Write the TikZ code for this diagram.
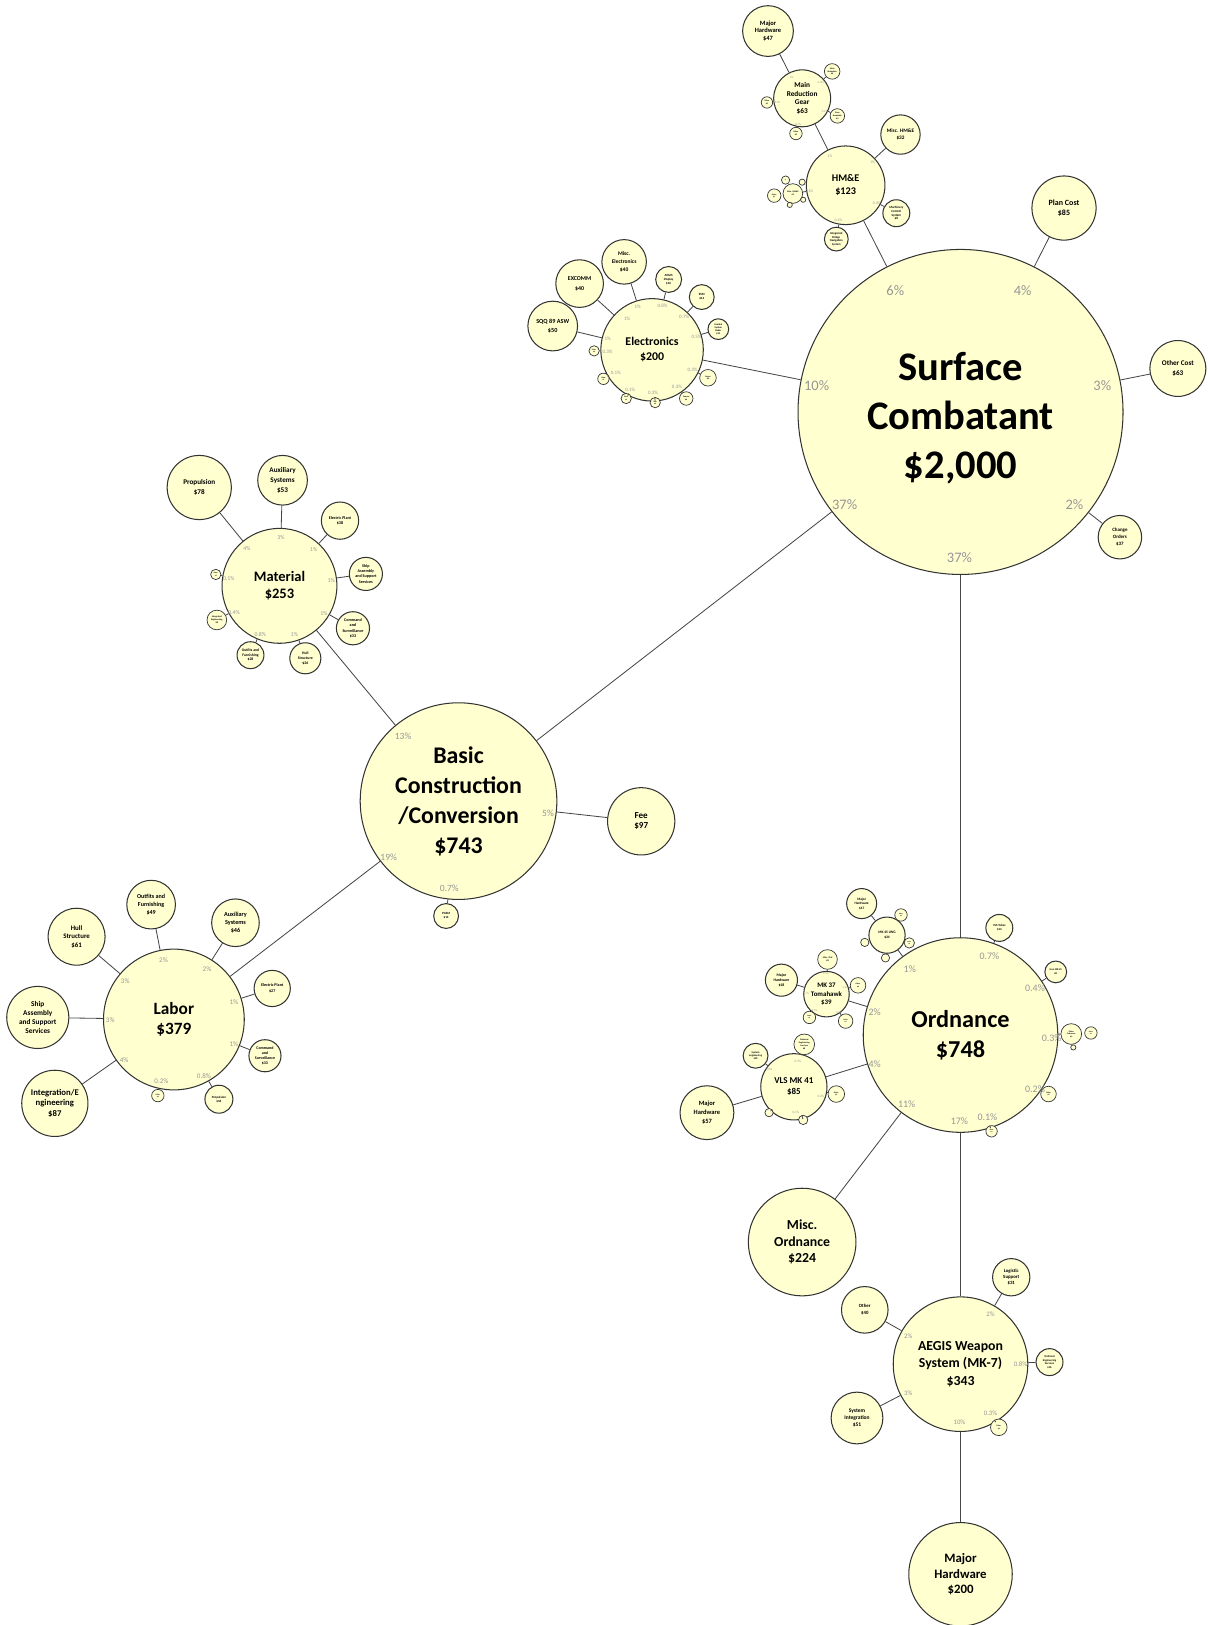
\documentclass[tikz,border=0pt]{standalone}
\usepackage{fontspec}
\setmainfont{Carlito}
\definecolor{bubfill}{RGB}{255,255,208}
\definecolor{pctgray}{RGB}{150,150,150}
\definecolor{edgegray}{RGB}{70,70,70}
\begin{document}
\begin{tikzpicture}[x=0.75pt,y=-0.75pt,
  bub/.style={circle, draw=black!80, line width=0.75pt, fill=bubfill, inner sep=0pt, minimum size=#1*1.5pt, align=center},
  sbub/.style={bub=#1, line width=0.5pt},
  fs/.style 2 args={font=\bfseries\fontsize{#1}{#2}\selectfont},
  pct/.style={text=pctgray, inner sep=0pt, font=\fontsize{#1}{#1}\selectfont},
  link/.style={draw=edgegray, line width=0.6pt}]
\useasboundingbox (0,0) rectangle (1167,1570);

% ---------------- main bubbles
\node[bub=157] (sc) at (928,398) {};
\node[fs={29.4}{35.3}, align=center, inner sep=0pt] (sct) at (928,404) {Surface\\Combatant\\\$2,000};
\node[bub=95, fs={17.3}{21.8}] (bcc) at (443,774) {Basic\\Construction\\/Conversion\\\$743};
\node[bub=94, fs={17.6}{21.8}] (ord) at (928,1000) {Ordnance\\\$748};
\node[bub=68, fs={12.5}{14.6}] (lab) at (168,985) {Labor\\\$379};
\node[bub=55.5, fs={10.5}{12.6}] (mat) at (270,566) {Material\\\$253};
\node[bub=49.5, fs={8.6}{11}] (el) at (630,338) {Electronics\\\$200};
\node[bub=38, fs={7.4}{9.5}] (hme) at (817,179) {HM\&E\\\$123};
\node[bub=65, fs={10}{12.8}] (aegis) at (928,1318) {AEGIS Weapon\\System (MK-7)\\\$343};
\node[bub=52, fs={10}{12}] (miscord) at (775,1200) {Misc.\\Ordnance\\\$224};
\node[bub=50, fs={9.3}{11}] (mh200) at (928,1521) {Major\\Hardware\\\$200};

% ---------------- surface combatant children
\node[bub=31, fs={5.8}{7.5}] (plan) at (1028,201) {Plan Cost\\\$85};
\node[bub=27, fs={5.2}{7}] (othercost) at (1138,356) {Other Cost\\\$63};
\node[bub=21, fs={3.6}{5}] (change) at (1082,519) {Change\\Orders\\\$37};

% ---------------- HM&E
\node[bub=27.5, fs={5.3}{6.5}] (mrg) at (775,95) {Main\\Reduction\\Gear\\\$63};
\node[bub=24.5, fs={4.7}{5.7}] (mh47) at (742,30) {Major\\Hardware\\\$47};
\node[sbub=7.5, fs={1.6}{1.9}] (mrgA) at (804,69) {Main\\Reduction\\\$6};
\node[sbub=5.5, fs={1.5}{1.8}] (mrgB) at (741,99) {Other\\\$2};
\node[sbub=7, fs={1.6}{1.9}] (mrgC) at (809,112) {Gear\\Assembly\\\$4};
\node[sbub=6, fs={1.5}{1.8}] (mrgD) at (769,129) {Other\\\$2};
\node[bub=19, fs={3.8}{4.8}] (mischme) at (870,130) {Misc. HM\&E\\\$32};
\node[bub=13, fs={2.3}{2.8}] (hmeR) at (866,206) {Machinery\\Control\\System\\\$8};
\node[bub=11.5, fs={2.1}{2.6}] (hmeB) at (808,231) {Integrated\\Bridge\\Navigation\\System};
\node[sbub=9.5, fs={1.6}{1.9}] (hmeL) at (766,187) {Misc. HM\&E\\\$2};
\node[sbub=6.5, fs={1.4}{1.7}] (hmeL1) at (748,189) {Other\\\$1};
\node[sbub=4, fs={1}{1.2}] (hmeL2) at (759,174) {\$1};
\node[sbub=3, fs={0.8}{1}] (hmeL3) at (775,176) {};
\node[sbub=2.5] (hmeL4) at (776,193) {};
\node[sbub=2.5] (hmeL5) at (763,198) {};

% ---------------- Electronics
\node[bub=24, fs={4.5}{7}] (sqq) at (534,315) {SQQ 89 ASW\\\$50};
\node[bub=23, fs={4.3}{7}] (excomm) at (560,274) {EXCOMM\\\$40};
\node[bub=21.5, fs={4}{5.6}] (miscel) at (603,253) {Misc.\\Electronics\\\$40};
\node[bub=12.5, fs={2.3}{2.9}] (elA) at (646,270) {AEGIS\\Display\\\$16};
\node[bub=12, fs={2.3}{2.9}] (elB) at (678,287) {ESM\\\$14};
\node[bub=10, fs={1.8}{2.3}] (elC) at (694,318) {Combat\\System\\Radar\\\$10};
\node[sbub=8, fs={1.6}{2}] (elD) at (684,365) {Sonar\\\$6};
\node[sbub=6.5, fs={1.5}{1.8}] (elE) at (663,385) {Comms\\\$6};
\node[sbub=5, fs={1.3}{1.6}] (elF) at (633,389) {Nav\\\$6};
\node[sbub=5, fs={1.3}{1.6}] (elG) at (605,385) {Other\\\$2};
\node[sbub=5.5, fs={1.3}{1.6}] (elH) at (583,366) {Other\\\$2};
\node[sbub=5, fs={1.3}{1.6}] (elI) at (574,339) {Other\\\$6};

% ---------------- Basic construction children
\node[bub=32.5, fs={6.6}{7.3}] (fee) at (619.5,793.5) {Fee\\\$97};
\node[bub=12, fs={2.3}{2.9}] (bccB) at (431,885) {PGSM\\\$14};

% ---------------- Material
\node[bub=31, fs={5.2}{7.2}] (prop) at (192.5,471) {Propulsion\\\$78};
\node[bub=24, fs={5.2}{7.2}] (auxm) at (273,464) {Auxiliary\\Systems\\\$53};
\node[bub=18, fs={3}{4}] (epm) at (328.5,503) {Electric Plant\\\$38};
\node[bub=16, fs={3}{3.8}] (sasm) at (353.5,554.5) {Ship\\Assembly\\and Support\\Services};
\node[bub=16, fs={3}{3.8}] (csm) at (341,607) {Command\\and\\Surveillance\\\$33};
\node[bub=15, fs={2.8}{3.6}] (hullm) at (295,636) {Hull\\Structure\\\$26};
\node[bub=13, fs={2.7}{3.4}] (outm) at (242,633) {Outfits and\\Furnishing\\\$28};
\node[sbub=9.5, fs={1.7}{2.1}] (iem) at (209.5,599) {Integrated\\Engineering\\\$8};
\node[sbub=5, fs={1.3}{1.6}] (tinym) at (208.5,555) {Other\\\$2};

% ---------------- Labor
\node[bub=27.5, fs={5}{6.1}] (hulll) at (74,905) {Hull\\Structure\\\$61};
\node[bub=23.5, fs={4.4}{5.6}] (outl) at (146,874) {Outfits and\\Furnishing\\\$49};
\node[bub=23, fs={4.5}{5.8}] (auxl) at (227.5,891.5) {Auxiliary\\Systems\\\$46};
\node[bub=17.5, fs={3}{4}] (epl) at (263,955) {Electric Plant\\\$27};
\node[bub=15.5, fs={2.9}{3.6}] (csl) at (256,1020) {Command\\and\\Surveillance\\\$33};
\node[bub=13.5, fs={2.3}{3}] (propl) at (211.5,1062) {Propulsion\\\$18};
\node[sbub=6, fs={1.3}{1.6}] (tinyl) at (152.5,1058.5) {Other\\\$4};
\node[bub=30, fs={5.3}{6.7}] (sasl) at (36.5,983) {Ship\\Assembly\\and Support\\Services};
\node[bub=32, fs={6.3}{7.6}] (iel) at (53,1066) {Integration/E\\ngineering\\\$87};

% ---------------- Ordnance
\node[bub=17.5, fs={2.6}{3.3}] (mk45) at (857,903.5) {MK 45 LWG\\\$34};
\node[bub=14.5, fs={2.5}{3.2}] (mh17) at (832.5,873) {Major\\Hardware\\\$17};
\node[sbub=6, fs={1.2}{1.5}] (mk45A) at (870.5,884) {Other\\\$4};
\node[sbub=5, fs={1.1}{1.4}] (mk45B) at (878.5,911) {Other\\\$3};
\node[sbub=4] (mk45C) at (855.5,925.5) {};
\node[sbub=4] (mk45D) at (835.5,910.5) {};
\node[bub=13, fs={2.2}{2.8}] (vlst) at (965.5,896.5) {VLS Tubes\\\$14};
\node[bub=10.5, fs={1.9}{2.4}] (smm) at (1020,939) {Gun MK 45\\\$8};
\node[sbub=10, fs={1.5}{1.8}] (ordR) at (1035,999) {Other\\Ordnance\\\$6};
\node[sbub=6, fs={1.2}{1.5}] (ordR1) at (1054,998) {Other\\\$2};
\node[sbub=2.5] (ordR2) at (1037,1012) {};
\node[sbub=7.5, fs={1.4}{1.7}] (ordR3) at (1013,1057) {Other\\\$4};
\node[sbub=5.5, fs={1.2}{1.5}] (ordB) at (958,1093) {Other\\\$2};
\node[bub=22, fs={5}{6.2}] (mk37) at (798.5,960.5) {MK 37\\Tomahawk\\\$39};
\node[bub=15.5, fs={2.8}{3.5}] (mh18) at (755,947) {Major\\Hardware\\\$18};
\node[sbub=9.5, fs={1.7}{2.1}] (mk37A) at (799.5,927) {Misc. Ord\\\$8};
\node[sbub=7.5, fs={1.4}{1.7}] (mk37B) at (829,952) {Other\\\$4};
\node[sbub=6, fs={1.2}{1.5}] (mk37C) at (782,983) {Other\\\$3};
\node[sbub=7, fs={1.3}{1.6}] (mk37D) at (817,986.5) {Other\\\$4};
\node[bub=32, fs={6.5}{8.2}] (vls) at (767,1050) {VLS MK 41\\\$85};
\node[bub=26, fs={4.7}{6.6}] (mh57) at (683,1075) {Major\\Hardware\\\$57};
\node[bub=12, fs={1.9}{2.4}] (syseng) at (730,1020) {System\\engineering\\\$10};
\node[sbub=10, fs={1.6}{2}] (techv) at (777,1009) {Technical\\Engineering\\Services\\\$8};
\node[sbub=8, fs={1.4}{1.7}] (vlsA) at (808,1057) {Other\\\$5};
\node[sbub=4.5] (vlsB) at (776,1082) {};
\node[sbub=4] (vlsC) at (743,1075) {};

% ---------------- AEGIS
\node[bub=18, fs={3.5}{4.4}] (log) at (977,1234) {Logistic\\Support\\\$31};
\node[bub=22.5, fs={3.5}{5}] (othera) at (835.5,1265.5) {Other\\\$40};
\node[bub=13, fs={2}{2.6}] (tes) at (1014,1316) {Technical\\Engineering\\Services\\\$16};
\node[bub=25, fs={4}{5.4}] (sysint) at (828,1370) {System\\Integration\\\$51};
\node[sbub=8, fs={1.4}{1.7}] (aegisB) at (965,1379) {Other\\\$6};

% ---------------- connectors
\foreach \a/\b in {sc/hme, sc/plan, sc/othercost, sc/change, sc/el, sc/bcc, sc/ord,
  hme/mrg, hme/mischme, hme/hmeR, hme/hmeB, hme/hmeL, mrg/mh47, mrg/mrgA, mrg/mrgB, mrg/mrgC, mrg/mrgD,
  el/sqq, el/excomm, el/miscel, el/elA, el/elB, el/elC, el/elD, el/elE, el/elF, el/elG, el/elH, el/elI,
  bcc/mat, bcc/fee, bcc/lab, bcc/bccB,
  mat/prop, mat/auxm, mat/epm, mat/sasm, mat/csm, mat/hullm, mat/outm, mat/iem, mat/tinym,
  lab/hulll, lab/outl, lab/auxl, lab/epl, lab/csl, lab/propl, lab/tinyl, lab/sasl, lab/iel,
  ord/mk45, ord/vlst, ord/smm, ord/ordR, ord/ordR3, ord/ordB, ord/mk37, ord/vls, ord/miscord, ord/aegis,
  mk45/mh17, mk37/mh18, mk37/mk37A, mk37/mk37B, mk37/mk37C, mk37/mk37D,
  vls/mh57, vls/syseng, vls/techv, vls/vlsA, vls/vlsB, vls/vlsC,
  aegis/log, aegis/othera, aegis/tes, aegis/sysint, aegis/aegisB, aegis/mh200}
  \draw[link] (\a) -- (\b);

% ---------------- percentage labels
\foreach \x/\y/\t [count=\i] in {865/281/6\%, 988/281/4\%, 789/373/10\%, 1065/373/3\%, 816/488/37\%, 1038/488/2\%, 927/539/37\%}
  \node[pct=10.5] (psc\i) at (\x,\y) {\t};
\foreach \x/\y/\t [count=\i] in {389.5/711/13\%, 529.5/786/5\%, 375.5/828/19\%, 434/858.5/0.7\%}
  \node[pct=6.9] (pbc\i) at (\x,\y) {\t};
\foreach \x/\y/\t [count=\i] in {956/924/0.7\%, 879/936/1\%, 1000/955/0.4\%, 845/977.5/2\%, 1016/1003/0.3\%, 845/1028.5/4\%, 1000/1052/0.2\%, 876/1067/11\%, 927/1083/17\%, 954/1079/0.1\%}
  \node[pct=7.2] (por\i) at (\x,\y) {\t};
\foreach \x/\y/\t [count=\i] in {158/928/2\%, 200/936/2\%, 121/948/3\%, 226/968.5/1\%, 106.5/985.5/3\%, 226/1009/1\%, 120/1024/4\%, 197/1039.5/0.8\%, 156/1044.5/0.2\%}
  \node[pct=5.1] (pla\i) at (\x,\y) {\t};
\foreach \x/\y/\t [count=\i] in {957/1269.5/2\%, 877.5/1290.5/2\%, 986/1318/0.8\%, 877.5/1346/3\%, 957/1365/0.3\%, 927/1374/10\%}
  \node[pct=4.9] (pae\i) at (\x,\y) {\t};
\foreach \x/\y/\t [count=\i] in {271.5/519/3\%, 238.5/529.5/4\%, 303/531/1\%, 221/559/0.1\%, 320/561/1\%, 226/592/0.4\%, 313/593/1\%, 251.5/613/0.8\%, 284.5/613.5/1\%}
  \node[pct=4.2] (pma\i) at (\x,\y) {\t};
\foreach \x/\y/\t [count=\i] in {616/296/1\%, 640/295/0.8\%, 606/308/1\%, 661/306/0.7\%, 587/327/1\%, 673/325/0.5\%, 587/340/0.3\%, 669/357/0.3\%, 595/360/0.1\%, 654/374/0.3\%, 609/377/0.1\%, 631/380/0.3\%}
  \node[pct=3.6] (pel\i) at (\x,\y) {\t};
\foreach \x/\y/\t [count=\i] in {802/151/1\%, 843/157/1\%, 782/185/0.1\%, 847/196.5/0.4\%, 810/213/0.1\%}
  \node[pct=2.8] (phm\i) at (\x,\y) {\t};
\foreach \x/\y/\t [count=\i] in {765/75/1\%, 793/80/0.3\%, 751/99/0.1\%, 797/108/0.2\%, 771/120/0.1\%}
  \node[pct=2.2] (pmr\i) at (\x,\y) {\t};
\foreach \x/\y/\t [count=\i] in {798/941/0.5\%, 817/954/0.2\%, 787/976/0.1\%, 811/978/0.2\%, 780/960/1\%}
  \node[pct=2] (pmk\i) at (\x,\y) {\t};
\foreach \x/\y/\t [count=\i] in {771/1025/0.5\%, 743/1033/0.6\%, 793/1059/0.2\%, 769/1075/0.1\%}
  \node[pct=2.4] (pvl\i) at (\x,\y) {\t};
\end{tikzpicture}
\end{document}
